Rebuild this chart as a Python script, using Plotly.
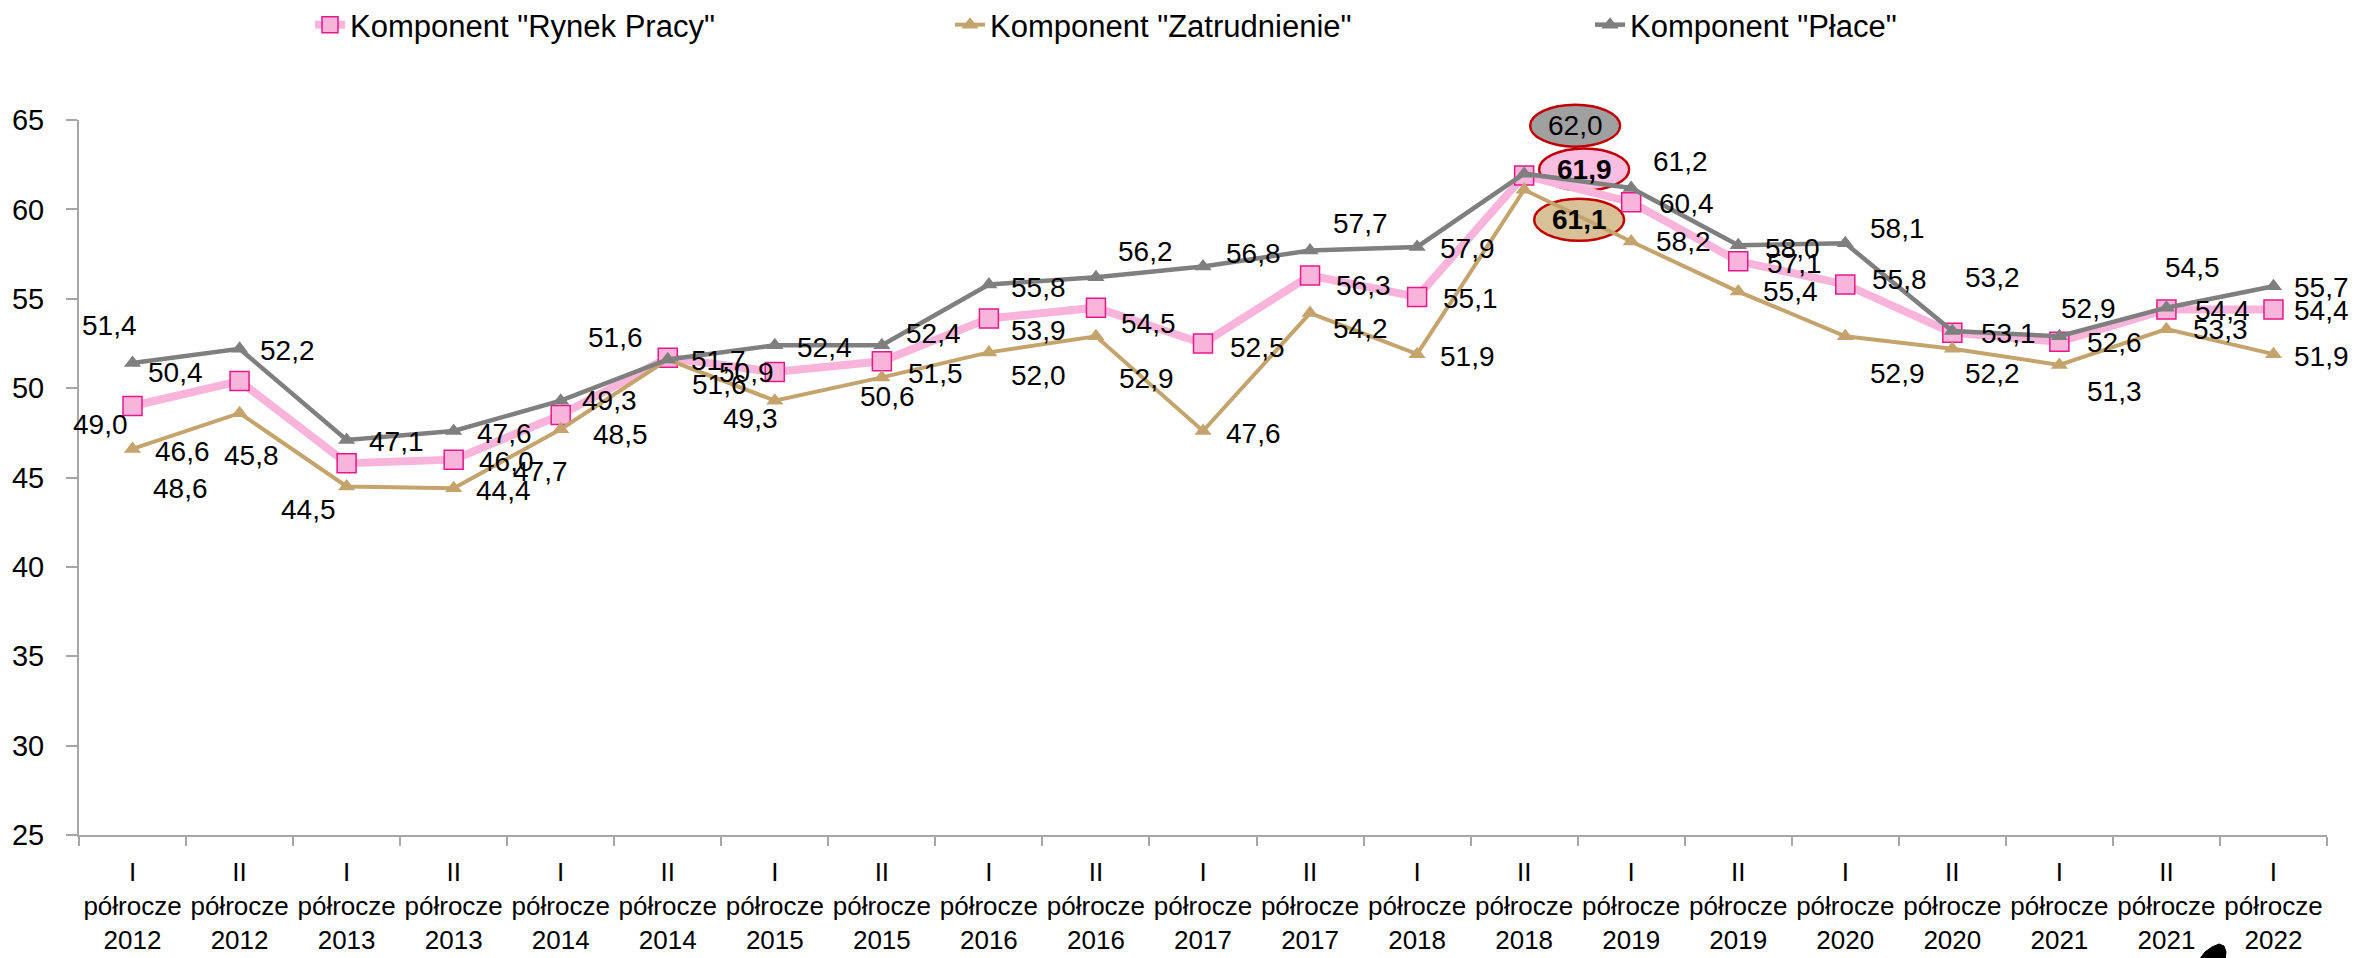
import plotly.graph_objects as go

# ---------------- data ----------------
halves = ["I", "II"] * 10 + ["I"]
years = [2012, 2012, 2013, 2013, 2014, 2014, 2015, 2015, 2016, 2016, 2017, 2017,
         2018, 2018, 2019, 2019, 2020, 2020, 2021, 2021, 2022]
categories = [f"{h}<br>półrocze<br>{y}" for h, y in zip(halves, years)]

rynek_pracy = [49.0, 50.4, 45.8, 46.0, 48.5, 51.7, 50.9, 51.5, 53.9, 54.5, 52.5,
               56.3, 55.1, 61.9, 60.4, 57.1, 55.8, 53.1, 52.6, 54.4, 54.4]
zatrudnienie = [46.6, 48.6, 44.5, 44.4, 47.7, 51.6, 49.3, 50.6, 52.0, 52.9, 47.6,
                54.2, 51.9, 61.1, 58.2, 55.4, 52.9, 52.2, 51.3, 53.3, 51.9]
place = [51.4, 52.2, 47.1, 47.6, 49.3, 51.6, 52.4, 52.4, 55.8, 56.2, 56.8,
         57.7, 57.9, 62.0, 61.2, 58.0, 58.1, 53.2, 52.9, 54.5, 55.7]

series_names = ['Komponent "Rynek Pracy"', 'Komponent "Zatrudnienie"', 'Komponent "Płace"']

Y_MIN, Y_MAX = 25, 65

# ---------------- label offsets (px; dy positive = downward) ----------------
rynek_dx = [-32, -64, -95, 53, 60, 51, -28, 54, 50, 53, 54, 53, 53, 60, 55, 56, 54, 56, 55, 56, 48]
rynek_dy = [18, -8, -8, 2, 20, 3, 0, 12, 12, 16, 4, 10, 2, -6, 1, 2, -5, 1, 1, 1, 1]
zatr_dx = [50, -59, -38, 50, -20, 52, -24, 6, 50, 51, 50, 50, 50, 55, 52, 52, 52, 40, 55, 54, 48]
zatr_dy = [3, 75, 23, 2, 42, 25, 18, 19, 23, 42, 2, 15, 2, 30, 0, 0, 37, 25, 27, 0, 2]
place_dx = [-23, 48, 50, 51, 49, -52, 50, 52, 50, 50, 50, 50, 50, 51, 49, 54, 52, 40, 29, 26, 48]
place_dy = [-38, 2, 2, 2, 0, -22, 2, -12, 3, -26, -13, -27, 2, -48, -26, 3, -15, -53, -28, -40, 1]

FONT = "Liberation Sans, Arial, sans-serif"
PINK_LINE = "#F8B4DA"
PINK_EDGE = "#E5198A"
TAN = "#C4A46C"
GRAY = "#7F7F7F"
AXIS = "#A6A6A6"

# the page body has an 8px default margin: the figure is sized/offset to compensate
BODY = 8
W, H = 2359 - BODY, 958 - BODY

fig = go.Figure()
fig.add_trace(go.Scatter(
    x=categories, y=rynek_pracy, name=series_names[0], mode="lines+markers",
    line=dict(color=PINK_LINE, width=8),
    marker=dict(symbol="square", size=19, color=PINK_LINE, line=dict(color=PINK_EDGE, width=1.5)),
))
fig.add_trace(go.Scatter(
    x=categories, y=zatrudnienie, name=series_names[1], mode="lines+markers",
    line=dict(color=TAN, width=4),
    marker=dict(symbol="triangle-up", size=15, color=TAN),
))
fig.add_trace(go.Scatter(
    x=categories, y=place, name=series_names[2], mode="lines+markers",
    line=dict(color=GRAY, width=4.5),
    marker=dict(symbol="triangle-up", size=15, color=GRAY),
))

n = len(categories)

# peak highlight: ellipses around the maxima (paper refs so they are not clipped)
peaks = [
    (place, place_dx, place_dy, "#A0A0A0"),
    (rynek_pracy, rynek_dx, rynek_dy, "#F9BEE0"),
    (zatrudnienie, zatr_dx, zatr_dy, "#D8C197"),
]
peak_idx = {}
for vals, dxs, dys, fill in peaks:
    i = max(range(len(vals)), key=lambda k: vals[k])
    peak_idx[id(vals)] = i
    fig.add_shape(
        type="circle", xref="paper", yref="paper", xsizemode="pixel", ysizemode="pixel",
        xanchor=(i + 0.5) / n, yanchor=(vals[i] - Y_MIN) / (Y_MAX - Y_MIN),
        x0=dxs[i] - 45, x1=dxs[i] + 45, y0=-dys[i] - 21, y1=-dys[i] + 21,
        fillcolor=fill, line=dict(color="#C00000", width=2.5), layer="below",
    )

def fmt(v):
    return f"{v:.1f}".replace(".", ",")

for vals, dxs, dys, bold in [(rynek_pracy, rynek_dx, rynek_dy, True),
                             (zatrudnienie, zatr_dx, zatr_dy, True),
                             (place, place_dx, place_dy, False)]:
    pk = peak_idx[id(vals)]
    for i, v in enumerate(vals):
        txt = fmt(v)
        if i == pk and bold:
            txt = f"<b>{txt}</b>"
        fig.add_annotation(
            x=i, y=v, xref="x", yref="y", text=txt, showarrow=False,
            xshift=dxs[i], yshift=-dys[i],
            font=dict(family=FONT, size=28, color="black"),
        )

# small black artefact at the bottom right of the original picture
def px2paper(px, py):
    return (px - 79) / 2248, (835 - py) / 715

blob = [(2199, 960), (2205, 952), (2212, 947), (2219, 944), (2224, 946), (2226, 952), (2225, 960)]
pts = [px2paper(a, b) for a, b in blob]
path = "M " + " L ".join(f"{a:.5f},{b:.5f}" for a, b in pts) + " Z"
fig.add_shape(type="path", xref="paper", yref="paper", path=path,
              fillcolor="black", line=dict(color="black", width=1))

fig.update_layout(
    width=W, height=H,
    margin=dict(l=79 - BODY, r=32, t=120 - BODY, b=123, autoexpand=False),
    paper_bgcolor="white", plot_bgcolor="white",
    font=dict(family=FONT, size=26, color="black"),
    showlegend=True,
    legend=dict(
        orientation="h", xref="container", yref="container",
        x=(310 - BODY) / W, xanchor="left", y=1 - (25 - BODY) / H, yanchor="middle",
        font=dict(family=FONT, size=31, color="black"),
        entrywidth=595, entrywidthmode="pixels",
        bgcolor="rgba(0,0,0,0)",
    ),
)
fig.update_xaxes(
    type="category", range=[-0.5, n - 0.5], showline=True, linecolor=AXIS, linewidth=2,
    ticks="outside", tickson="boundaries", ticklen=9, tickcolor=AXIS, tickwidth=1.5,
    showgrid=False, zeroline=False, tickangle=0, automargin=False,
    tickfont=dict(family=FONT, size=26, color="black"),
    ticklabelstandoff=13,
)
fig.update_yaxes(
    range=[Y_MIN, Y_MAX], tickvals=list(range(Y_MIN, Y_MAX + 1, 5)),
    showline=True, linecolor=AXIS, linewidth=2,
    ticks="outside", ticklen=11, tickcolor=AXIS, tickwidth=1.5,
    showgrid=False, zeroline=False, automargin=False,
    tickfont=dict(family=FONT, size=29, color="black"),
    ticklabelstandoff=16,
)

fig.write_html("out.html")
